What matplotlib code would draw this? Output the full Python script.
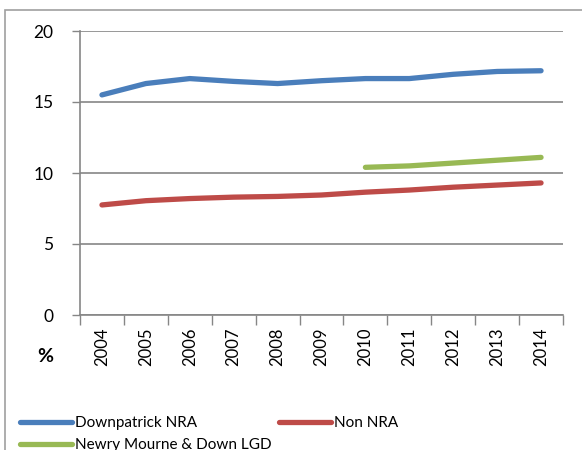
import matplotlib
matplotlib.use("Agg")
import matplotlib.pyplot as plt
from matplotlib.patches import Rectangle
import numpy as np

years = ["2004", "2005", "2006", "2007", "2008", "2009", "2010", "2011", "2012", "2013", "2014"]
downpatrick = [15.5, 16.3, 16.65, 16.45, 16.3, 16.5, 16.65, 16.65, 16.95, 17.15, 17.2]
non_nra = [7.75, 8.05, 8.2, 8.3, 8.35, 8.45, 8.65, 8.8, 9.0, 9.15, 9.3]
lgd_years = ["2010", "2011", "2012", "2013", "2014"]
lgd = [10.4, 10.5, 10.7, 10.9, 11.1]

plt.rcParams['font.family'] = ['Lato', 'DejaVu Sans']
grey = "#868686"

fig = plt.figure(figsize=(5.82, 4.5), dpi=100)
ax = fig.add_axes([80/582, 1-315/450, (563-80)/582, (315-31)/450])

x = np.arange(len(years))
xl = np.array([years.index(y) for y in lgd_years])
h1, = ax.plot(x, downpatrick, color="#4A7EBB", lw=3.8, solid_capstyle="round", label="Downpatrick NRA")
h2, = ax.plot(x, non_nra, color="#BE4B48", lw=3.8, solid_capstyle="round", label="Non NRA")
h3, = ax.plot(xl, lgd, color="#98B954", lw=3.8, solid_capstyle="round", label="Newry Mourne & Down LGD")

ax.set_xlim(-0.5, len(years) - 0.5)
ax.set_ylim(0, 20)
ax.set_yticks([0, 5, 10, 15, 20])
ax.set_xticks(np.arange(-0.5, len(years), 1.0))
ax.set_xticklabels([])
ax.set_xticks(x, minor=True)
ax.set_xticklabels(years, minor=True, rotation=90, fontsize=12)
ax.tick_params(axis="x", which="major", length=7, color=grey, width=1)
ax.tick_params(axis="x", which="minor", length=0, pad=9)
ax.tick_params(axis="y", length=6, color=grey, width=1, pad=13, labelsize=12.5)
ax.grid(axis="y", color=grey, lw=1.2)
ax.set_axisbelow(True)
for s in ["top", "right"]:
    ax.spines[s].set_visible(False)
for s in ["left", "bottom"]:
    ax.spines[s].set_color(grey)
    ax.spines[s].set_linewidth(1.2)

fig.text(45/582, 1-357/450, "%", fontsize=14, fontweight="bold", ha="center", va="center")

fig.patches.append(Rectangle((5/582, -0.2), 1.2, 1.2 + (1-10/450) - 1, transform=fig.transFigure,
                             fill=False, edgecolor="#A0A0A0", lw=1.2))

leg_kw = dict(loc="upper left", frameon=False, fontsize=11, handlelength=3.4,
              handletextpad=0.2, labelspacing=0.55, borderaxespad=0, borderpad=0)
leg1 = fig.legend([h1, h3], [h1.get_label(), h3.get_label()],
                  bbox_to_anchor=(20/582, 1-416/450), **leg_kw)
leg2 = fig.legend([h2], [h2.get_label()],
                  bbox_to_anchor=(279/582, 1-416/450), **leg_kw)

fig.savefig("out.png", dpi=100)
